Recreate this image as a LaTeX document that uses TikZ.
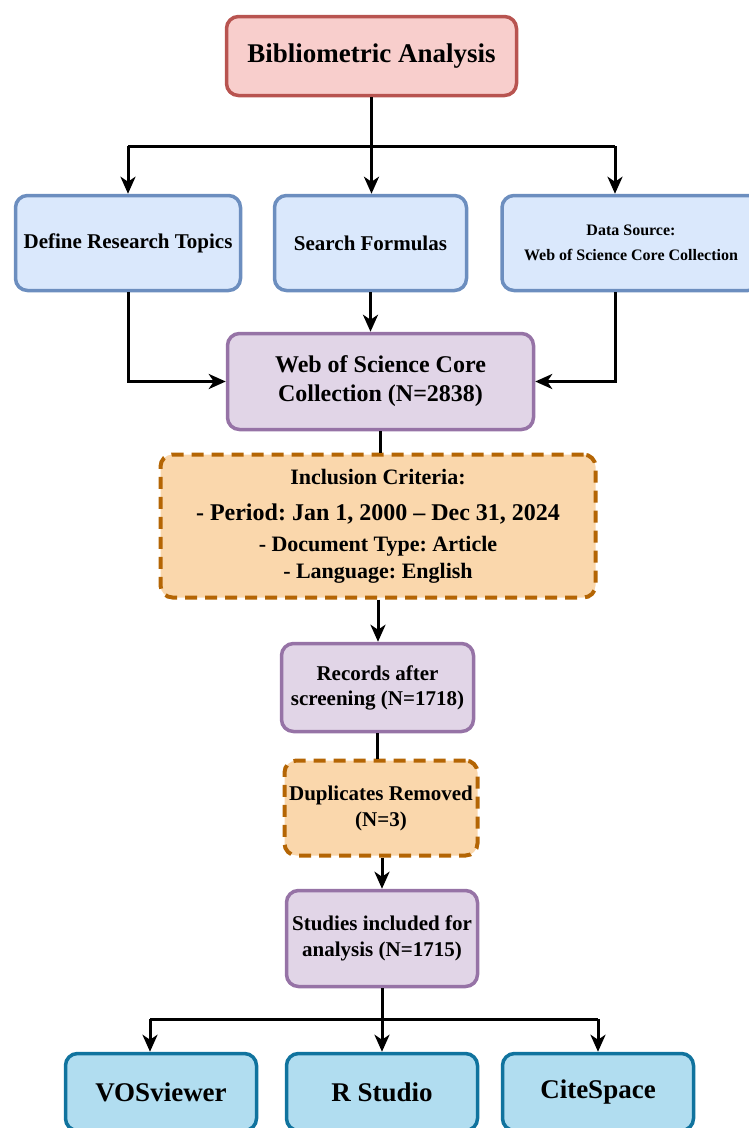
\documentclass[tikz,border=0pt]{standalone}
\usepackage{fontspec}
\setmainfont{Liberation Serif}
\usetikzlibrary{arrows.meta}
\frenchspacing

\definecolor{pinkfill}{HTML}{F8CECC}
\definecolor{pinkdraw}{HTML}{B85450}
\definecolor{bluefill}{HTML}{DAE8FC}
\definecolor{bluedraw}{HTML}{6C8EBF}
\definecolor{purplefill}{HTML}{E1D5E7}
\definecolor{purpledraw}{HTML}{9673A6}
\definecolor{orangefill}{HTML}{FAD7AC}
\definecolor{orangedraw}{HTML}{B46504}
\definecolor{toolfill}{HTML}{B1DDF0}
\definecolor{tooldraw}{HTML}{10739E}

\begin{document}
\begin{tikzpicture}[x=1pt, y=-1pt,
	>={Stealth[length=17pt, width=15pt, inset=5pt]},
	box/.style={rectangle, rounded corners=12pt, line width=3.5pt, inner sep=0pt, align=center},
	topbox/.style={box, draw=pinkdraw, fill=pinkfill},
	stepbox/.style={box, draw=bluedraw, fill=bluefill},
	countbox/.style={box, draw=purpledraw, fill=purplefill},
	filterbox/.style={box, draw=orangedraw, fill=orangefill, line width=4pt, dash pattern=on 12pt off 8pt},
	toolbox/.style={box, draw=tooldraw, fill=toolfill},
	link/.style={line width=3pt}]
	\useasboundingbox (0,0) rectangle (749,1128);
	\clip (0,0) rectangle (749,1128);

	\node at (371.5,56) [topbox, minimum width=290, minimum height=79, font=\bfseries\fontsize{27}{32}\selectfont] (bib) {Bibliometric Analysis};
	\node at (128,243) [stepbox, minimum width=225, minimum height=95, font=\bfseries\fontsize{21}{25}\selectfont] (topics) {Define Research Topics};
	\node at (370.5,243) [stepbox, minimum width=192, minimum height=95, font=\bfseries\fontsize{21}{25}\selectfont] (formulas) {Search Formulas};
	\node at (631,243) [stepbox, minimum width=258, minimum height=95, font=\bfseries\fontsize{16}{25}\selectfont] (source) {Data Source:\\Web of Science Core Collection};
	\node at (380.5,381.5) [countbox, minimum width=306, minimum height=96, font=\bfseries\fontsize{24}{29}\selectfont] (wos) {Web of Science Core\\Collection (N=2838)};
	\node at (378,526) [filterbox, minimum width=435, minimum height=143, font=\bfseries\fontsize{22}{27}\selectfont] (criteria) {Inclusion Criteria:\\[9pt]{\fontsize{24}{29}\selectfont - Period: Jan 1, 2000 -- Dec 31, 2024}\\[4pt]- Document Type: Article\\- Language: English};
	\node at (377.5,687.5) [countbox, minimum width=192, minimum height=88, font=\bfseries\fontsize{21}{25}\selectfont] (records) {Records after\\screening (N=1718)};
	\node at (381,808) [filterbox, minimum width=193, minimum height=95, font=\bfseries\fontsize{21}{26}\selectfont] (dups) {Duplicates Removed\\(N=3)};
	\node at (382,938.5) [countbox, minimum width=191, minimum height=96, font=\bfseries\fontsize{21}{26}\selectfont] (studies) {Studies included for\\analysis (N=1715)};
	\node at (161,1092) [toolbox, minimum width=191, minimum height=77, font=\bfseries\fontsize{27}{32}\selectfont] (vos) {VOSviewer};
	\node at (382,1092) [toolbox, minimum width=191, minimum height=77, font=\bfseries\fontsize{27}{32}\selectfont] (rstudio) {R Studio};
	\node at (598,1092) [toolbox, minimum width=191, minimum height=77, font=\bfseries\fontsize{27}{32}\selectfont] (cite) {CiteSpace};

	\coordinate (b1) at (128,146);
	\coordinate (b3) at (615,146);
	\coordinate (b4) at (150,1019);
	\coordinate (b6) at (598,1019);

	\draw [link] (b1) -- (b3);
	\draw [link, ->] (bib.south) -- (bib.south |- formulas.north);
	\draw [link, ->] (b1) -- (topics.north);
	\draw [link, ->] (b3) -- (b3 |- source.north);

	\draw [link, ->] (topics.south) |- (wos.west);
	\draw [link, ->] (formulas.south) -- (formulas.south |- wos.north);
	\draw [link, ->] (b3 |- source.south) |- (wos.east);

	\draw [link] (wos.south) -- (wos.south |- criteria.north);
	\draw [link, ->] (criteria.south) -- (criteria.south |- records.north);
	\draw [link] (records.south) -- (records.south |- dups.north);
	\draw [link, ->] (dups.south -| studies.north) -- (studies.north);

	\draw [link] (studies.south) -- (studies.south |- b4);
	\draw [link] (b4) -- (b6);
	\draw [link, ->] (b4) -- (b4 |- vos.north);
	\draw [link, ->] (studies.south |- b4) -- (rstudio.north);
	\draw [link, ->] (b6) -- (cite.north);
\end{tikzpicture}
\end{document}
